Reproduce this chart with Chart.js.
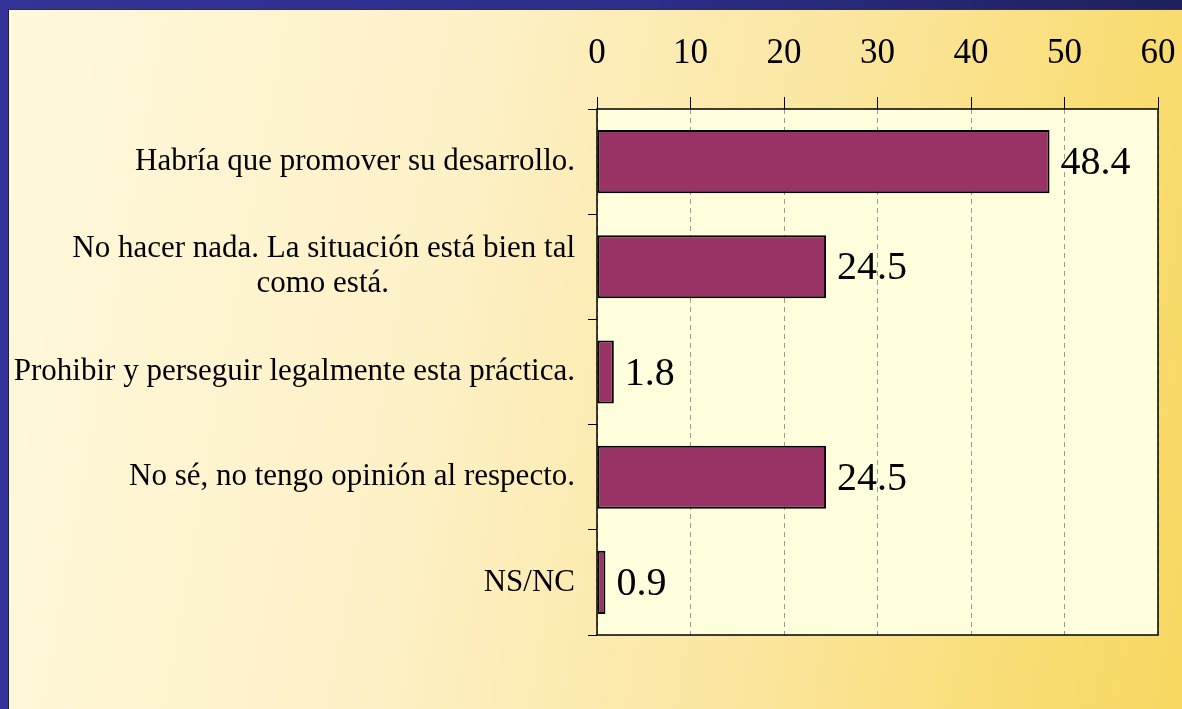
<!DOCTYPE html>
<html>
<head>
<meta charset="utf-8">
<script src="https://cdn.jsdelivr.net/npm/chart.js@4.4.1/dist/chart.umd.min.js"></script>
<style>
  html, body { margin: 0; padding: 0; width: 1182px; height: 709px; overflow: hidden; }
  body { background: linear-gradient(to right, #333399 0%, #2d2d8a 55%, #1f1f5e 100%); position: relative; }
  #panel {
    position: absolute; left: 8px; top: 9px; width: 1173px; height: 699px;
    border-left: 1px solid #222; border-top: 1px solid #333;
    background: linear-gradient(100deg, #fff8dc 0%, #fdf1c8 35%, #fbe6a0 65%, #f9dc72 88%, #f8d862 100%);
  }
  #wrap { position: absolute; left: 0; top: 0; width: 1173px; height: 699px; }
</style>
</head>
<body>
<div id="panel"><div id="wrap"><canvas id="opinionChart"></canvas></div></div>
<script>
var serif = "'Liberation Serif', 'Times New Roman', serif";
var labelSize = 31;

// data
var categories = [
  "Habría que promover su desarrollo.",
  ["No hacer nada. La situación está bien tal", "como está."],
  "Prohibir y perseguir legalmente esta práctica.",
  "No sé, no tengo opinión al respecto.",
  "NS/NC"
];
var percentages = [48.4, 24.5, 1.8, 24.5, 0.9];
var xMin = 0, xMax = 60, xStep = 10;

// the second line of a wrapped label is centred under the first one,
// while the block itself stays right aligned against the axis
function centerWrapped(lines) {
  var c = document.createElement("canvas").getContext("2d");
  c.font = labelSize + "px " + serif;
  var wFirst = c.measureText(lines[0]).width;
  var sp = c.measureText("\u00A0").width;
  return lines.map(function (l, i) {
    if (i === 0) return l;
    var n = Math.round((wFirst - c.measureText(l).width) / 2 / sp);
    return l + "\u00A0".repeat(Math.max(n, 0));
  });
}
var yLabels = categories.map(function (c) {
  return Array.isArray(c) ? centerWrapped(c) : c;
});

var plotFrame = {
  id: "plotFrame",
  beforeDraw: function (chart) {
    var a = chart.chartArea, ctx = chart.ctx;
    ctx.save();
    ctx.fillStyle = "#ffffdd";
    ctx.fillRect(a.left, a.top, a.right - a.left, a.bottom - a.top);
    ctx.restore();
  },
  beforeDatasetsDraw: function (chart) {
    var a = chart.chartArea, ctx = chart.ctx;
    ctx.save();
    ctx.strokeStyle = "#000";
    ctx.lineWidth = 1.5;
    ctx.strokeRect(a.left, a.top, a.right - a.left, a.bottom - a.top);
    ctx.restore();
  }
};

var valueLabels = {
  id: "valueLabels",
  afterDatasetsDraw: function (chart) {
    var ctx = chart.ctx;
    var meta = chart.getDatasetMeta(0);
    ctx.save();
    ctx.font = "40px " + serif;
    ctx.fillStyle = "#000";
    ctx.textAlign = "left";
    ctx.textBaseline = "middle";
    meta.data.forEach(function (bar, i) {
      ctx.fillText(percentages[i].toFixed(1), bar.x + 11, bar.y + 2);
    });
    ctx.restore();
  }
};

var ctx = document.getElementById("opinionChart").getContext("2d");
new Chart(ctx, {
  type: "bar",
  data: {
    labels: yLabels,
    datasets: [
      {
        data: percentages,
        backgroundColor: "#993366",
        borderColor: "#000",
        borderWidth: 2,
        borderSkipped: false,
        barPercentage: 0.6,
        categoryPercentage: 1
      }
    ]
  },
  options: {
    indexAxis: "y",
    responsive: true,
    maintainAspectRatio: false,
    animation: false,
    layout: { padding: { top: 0, right: 24, bottom: 74, left: 0 } },
    plugins: { legend: { display: false }, tooltip: { enabled: false } },
    scales: {
      x: {
        position: "top",
        min: xMin,
        max: xMax,
        ticks: {
          stepSize: xStep,
          color: "#000",
          font: { family: serif, size: 35 },
          padding: 22
        },
        grid: {
          color: "#999",
          lineWidth: 1,
          tickColor: "#000",
          tickLength: 12,
          tickBorderDash: []
        },
        border: { display: false, dash: [5, 4] },
        afterFit: function (s) {
          s.height = 99;
          s.paddingLeft = 0;
          s.paddingRight = 0;
        }
      },
      y: {
        ticks: {
          color: "#000",
          font: { family: serif, size: labelSize, lineHeight: 1.13 },
          padding: 13,
          crossAlign: "near"
        },
        grid: { drawOnChartArea: false, tickColor: "#000", tickLength: 9 },
        border: { display: false },
        afterFit: function (s) { s.width = 588; }
      }
    }
  },
  plugins: [plotFrame, valueLabels]
});
</script>
</body>
</html>
